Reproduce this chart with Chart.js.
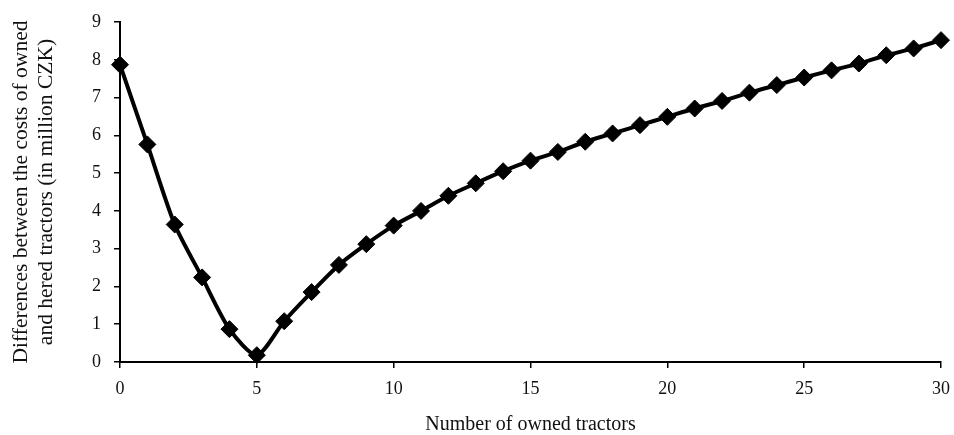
<!DOCTYPE html>
<html>
<head>
<meta charset="utf-8">
<script src="https://cdn.jsdelivr.net/npm/chart.js@4"></script>
<style>
  html, body { margin: 0; padding: 0; background: #fff; }
  #wrap { width: 954px; height: 435px; }
</style>
</head>
<body>
<div id="wrap"><canvas id="chart"></canvas></div>
<script>
// number of owned tractors
const tractors = [0, 1, 2, 3, 4, 5, 6, 7, 8, 9, 10, 11, 12, 13, 14, 15, 16, 17, 18, 19, 20,
                  21, 22, 23, 24, 25, 26, 27, 28, 29, 30];
// cost differences (million CZK)
const costDiff = [7.87, 5.76, 3.64, 2.24, 0.87, 0.18, 1.08, 1.85, 2.57, 3.12, 3.61,
                  4.0, 4.4, 4.73, 5.05, 5.33, 5.56, 5.83, 6.05, 6.27, 6.49,
                  6.71, 6.91, 7.13, 7.33, 7.53, 7.72, 7.9, 8.12, 8.3, 8.52];
const xTicks = [0, 5, 10, 15, 20, 25, 30];
const yTicks = [0, 1, 2, 3, 4, 5, 6, 7, 8, 9];

const yTitle = ['Differences between the costs of owned', 'and hered tractors (in million CZK)'];
const xTitle = 'Number of owned tractors';

const serif = '"Liberation Serif", "DejaVu Serif", serif';

const ctx = document.getElementById('chart').getContext('2d');
new Chart(ctx, {
    type: 'line',
    data: {
        datasets: [{
            data: tractors.map((t, i) => ({ x: t, y: costDiff[i] })),
            borderColor: '#000',
            backgroundColor: '#000',
            borderWidth: 4,
            tension: 0.25,
            pointStyle: 'rectRot',
            pointRadius: 8.5,
            pointBorderWidth: 1,
            pointBackgroundColor: '#000',
            pointBorderColor: '#000',
            clip: false
        }]
    },
    options: {
        responsive: true,
        maintainAspectRatio: false,
        animation: false,
        layout: { padding: { top: 22, right: 13, left: 0, bottom: 0 } },
        plugins: {
            legend: { display: false },
            tooltip: { enabled: false }
        },
        scales: {
            x: {
                type: 'linear',
                min: 0,
                max: 30,
                afterBuildTicks: axis => { axis.ticks = xTicks.map(v => ({ value: v })); },
                afterFit: axis => {
                    axis.height = 73;
                    axis.paddingRight = 0; // let the "30" label hang past the plot edge
                    axis.paddingLeft = 0;
                },
                border: { color: '#000', width: 2 },
                grid: { drawOnChartArea: false, color: '#000', tickLength: 6, lineWidth: 1.5 },
                ticks: { color: '#111', font: { family: serif, size: 18 }, padding: 10, maxRotation: 0 },
                title: {
                    display: true,
                    text: xTitle,
                    color: '#111',
                    font: { family: serif, size: 20, lineHeight: 1.0 },
                    padding: { top: 8, bottom: 0 }
                }
            },
            y: {
                min: 0,
                max: 9,
                afterBuildTicks: axis => { axis.ticks = yTicks.map(v => ({ value: v })); },
                afterFit: axis => {
                    axis.width = 120;
                    axis.paddingTop = 0;
                    axis.paddingBottom = 0;
                },
                border: { color: '#000', width: 2 },
                grid: { drawOnChartArea: false, color: '#000', tickLength: 6, lineWidth: 1.5 },
                ticks: { color: '#111', font: { family: serif, size: 18 }, padding: 13 },
                title: {
                    display: true,
                    text: yTitle,
                    color: '#111',
                    font: { family: serif, size: 21.5, lineHeight: 1.2 },
                    padding: { top: 8, bottom: 0 }
                }
            }
        }
    }
});
</script>
</body>
</html>
